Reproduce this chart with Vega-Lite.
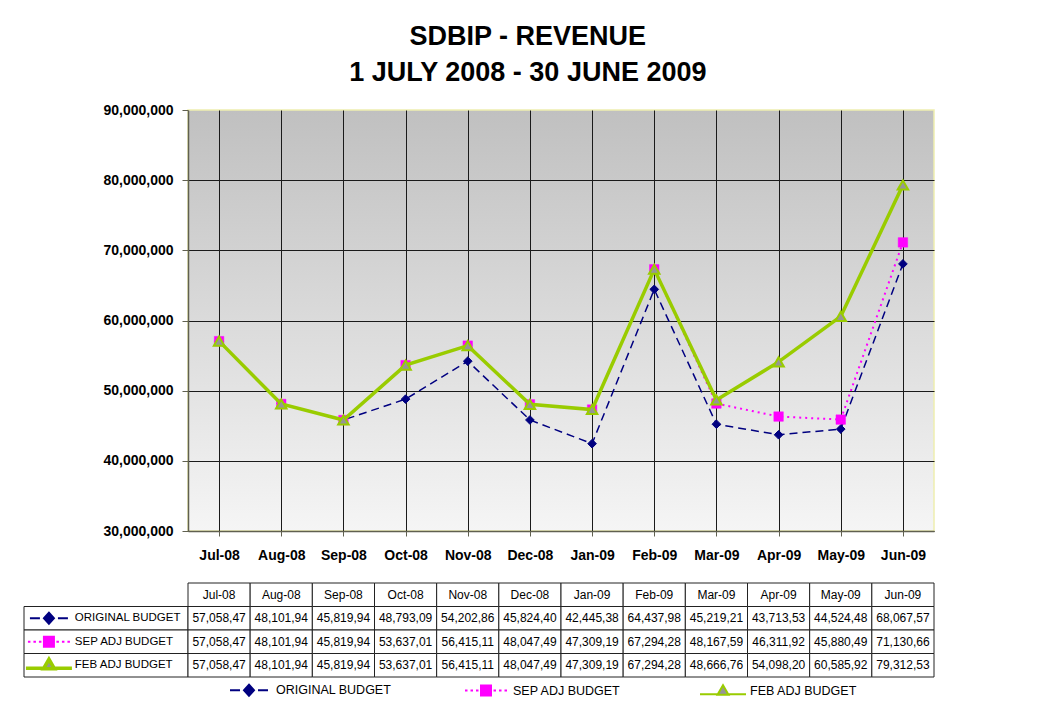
{
  "$schema": "https://vega.github.io/schema/vega-lite/v6.json",
  "padding": {"left": 18, "top": 23, "right": 5, "bottom": 5},
  "background": "white",
  "title": {
    "text": ["SDBIP - REVENUE", "1 JULY 2008 - 30 JUNE 2009"],
    "font": "Liberation Sans",
    "fontWeight": "bold",
    "fontSize": 27,
    "lineHeight": 36,
    "color": "#000000",
    "anchor": "middle",
    "dx": 51,
    "offset": 15
  },
  "datasets": {
    "budget": [
      {"month": "Jul-08", "series": "ORIGINAL BUDGET", "value": 57058470, "label": "57,058,47"},
      {"month": "Aug-08", "series": "ORIGINAL BUDGET", "value": 48101940, "label": "48,101,94"},
      {"month": "Sep-08", "series": "ORIGINAL BUDGET", "value": 45819940, "label": "45,819,94"},
      {"month": "Oct-08", "series": "ORIGINAL BUDGET", "value": 48793090, "label": "48,793,09"},
      {"month": "Nov-08", "series": "ORIGINAL BUDGET", "value": 54202860, "label": "54,202,86"},
      {"month": "Dec-08", "series": "ORIGINAL BUDGET", "value": 45824400, "label": "45,824,40"},
      {"month": "Jan-09", "series": "ORIGINAL BUDGET", "value": 42445380, "label": "42,445,38"},
      {"month": "Feb-09", "series": "ORIGINAL BUDGET", "value": 64437980, "label": "64,437,98"},
      {"month": "Mar-09", "series": "ORIGINAL BUDGET", "value": 45219210, "label": "45,219,21"},
      {"month": "Apr-09", "series": "ORIGINAL BUDGET", "value": 43713530, "label": "43,713,53"},
      {"month": "May-09", "series": "ORIGINAL BUDGET", "value": 44524480, "label": "44,524,48"},
      {"month": "Jun-09", "series": "ORIGINAL BUDGET", "value": 68067570, "label": "68,067,57"},
      {"month": "Jul-08", "series": "SEP ADJ BUDGET", "value": 57058470, "label": "57,058,47"},
      {"month": "Aug-08", "series": "SEP ADJ BUDGET", "value": 48101940, "label": "48,101,94"},
      {"month": "Sep-08", "series": "SEP ADJ BUDGET", "value": 45819940, "label": "45,819,94"},
      {"month": "Oct-08", "series": "SEP ADJ BUDGET", "value": 53637010, "label": "53,637,01"},
      {"month": "Nov-08", "series": "SEP ADJ BUDGET", "value": 56415110, "label": "56,415,11"},
      {"month": "Dec-08", "series": "SEP ADJ BUDGET", "value": 48047490, "label": "48,047,49"},
      {"month": "Jan-09", "series": "SEP ADJ BUDGET", "value": 47309190, "label": "47,309,19"},
      {"month": "Feb-09", "series": "SEP ADJ BUDGET", "value": 67294280, "label": "67,294,28"},
      {"month": "Mar-09", "series": "SEP ADJ BUDGET", "value": 48167590, "label": "48,167,59"},
      {"month": "Apr-09", "series": "SEP ADJ BUDGET", "value": 46311920, "label": "46,311,92"},
      {"month": "May-09", "series": "SEP ADJ BUDGET", "value": 45880490, "label": "45,880,49"},
      {"month": "Jun-09", "series": "SEP ADJ BUDGET", "value": 71130660, "label": "71,130,66"},
      {"month": "Jul-08", "series": "FEB ADJ BUDGET", "value": 57058470, "label": "57,058,47"},
      {"month": "Aug-08", "series": "FEB ADJ BUDGET", "value": 48101940, "label": "48,101,94"},
      {"month": "Sep-08", "series": "FEB ADJ BUDGET", "value": 45819940, "label": "45,819,94"},
      {"month": "Oct-08", "series": "FEB ADJ BUDGET", "value": 53637010, "label": "53,637,01"},
      {"month": "Nov-08", "series": "FEB ADJ BUDGET", "value": 56415110, "label": "56,415,11"},
      {"month": "Dec-08", "series": "FEB ADJ BUDGET", "value": 48047490, "label": "48,047,49"},
      {"month": "Jan-09", "series": "FEB ADJ BUDGET", "value": 47309190, "label": "47,309,19"},
      {"month": "Feb-09", "series": "FEB ADJ BUDGET", "value": 67294280, "label": "67,294,28"},
      {"month": "Mar-09", "series": "FEB ADJ BUDGET", "value": 48666760, "label": "48,666,76"},
      {"month": "Apr-09", "series": "FEB ADJ BUDGET", "value": 54098200, "label": "54,098,20"},
      {"month": "May-09", "series": "FEB ADJ BUDGET", "value": 60585920, "label": "60,585,92"},
      {"month": "Jun-09", "series": "FEB ADJ BUDGET", "value": 79312530, "label": "79,312,53"}
    ]
  },
  "columns": 2,
  "spacing": {"row": 52, "column": 0},
  "bounds": "flush",
  "align": "each",
  "concat": [
    {
      "width": 164,
      "height": 421,
      "data": {"values": [{"k": 1}]},
      "mark": {"type": "text", "text": ""},
      "encoding": {},
      "view": {"stroke": null}
    },
    {
      "width": 746,
      "height": 421,
      "data": {"name": "budget"},
      "view": {
        "fill": {"gradient": "linear", "x1": 0, "y1": 0, "x2": 0, "y2": 1,
          "stops": [{"offset": 0, "color": "#c0c0c0"}, {"offset": 1, "color": "#f5f5f5"}]},
        "stroke": "#eeeeb0",
        "strokeWidth": 1.5
      },
      "encoding": {
        "x": {
          "field": "month", "type": "ordinal",
          "scale": {"domain": ["Jul-08","Aug-08","Sep-08","Oct-08","Nov-08","Dec-08","Jan-09","Feb-09","Mar-09","Apr-09","May-09","Jun-09"], "paddingInner": 0, "paddingOuter": 0},
          "axis": {
            "title": null, "labelAngle": 0, "bandPosition": 0,
            "grid": true, "gridColor": "#1a1a1a", "gridWidth": 1,
            "ticks": true, "tickSize": 5, "tickColor": "#606050",
            "domainColor": "#606050", "domainWidth": 1.5,
            "labelFont": "Liberation Sans", "labelFontWeight": "bold", "labelFontSize": 14,
            "labelColor": "#000000", "labelPadding": 12
          }
        },
        "y": {
          "field": "value", "type": "quantitative",
          "scale": {"domain": [30000000, 90000000], "nice": false, "zero": false},
          "axis": {
            "title": null,
            "values": [30000000, 40000000, 50000000, 60000000, 70000000, 80000000, 90000000],
            "format": ",d",
            "grid": true, "gridColor": "#1a1a1a", "gridWidth": 1,
            "gridOpacity": {"condition": {"test": "datum.value >= 90000000", "value": 0}, "value": 1},
            "tickSize": 6, "tickColor": "#606050",
            "domainColor": "#606050", "domainWidth": 1.5,
            "labelFont": "Liberation Sans", "labelFontWeight": "bold", "labelFontSize": 14,
            "labelColor": "#000000", "labelPadding": 9
          }
        }
      },
      "layer": [
        {
          "transform": [{"filter": "datum.series === 'ORIGINAL BUDGET'"}],
          "mark": {"type": "line", "stroke": "#000080", "strokeWidth": 1.5, "strokeDash": [8, 5]}
        },
        {
          "transform": [{"filter": "datum.series === 'ORIGINAL BUDGET'"}],
          "mark": {"type": "point", "shape": "diamond", "filled": true, "fill": "#000080", "stroke": "#000080", "strokeWidth": 1, "size": 75, "opacity": 1}
        },
        {
          "transform": [{"filter": "datum.series === 'SEP ADJ BUDGET'"}],
          "mark": {"type": "line", "stroke": "#ff00ff", "strokeWidth": 2, "strokeDash": [2, 4]}
        },
        {
          "transform": [{"filter": "datum.series === 'SEP ADJ BUDGET'"}],
          "mark": {"type": "point", "shape": "square", "filled": true, "fill": "#ff00ff", "stroke": "#ff00ff", "strokeWidth": 0.5, "size": 90, "opacity": 1}
        },
        {
          "transform": [{"filter": "datum.series === 'FEB ADJ BUDGET'"}],
          "mark": {"type": "line", "stroke": "#99cc00", "strokeWidth": 3.5}
        },
        {
          "transform": [{"filter": "datum.series === 'FEB ADJ BUDGET'"}],
          "mark": {"type": "point", "shape": "triangle-up", "filled": true, "fill": "#969696", "stroke": "#99cc00", "strokeWidth": 2, "size": 110, "opacity": 1}
        },
        {
          "transform": [{"filter": "datum.month === 'Jul-08'"}],
          "mark": {"type": "point", "opacity": 0, "filled": true},
          "encoding": {
            "shape": {
              "field": "series", "type": "nominal",
              "scale": {
                "domain": ["ORIGINAL BUDGET", "SEP ADJ BUDGET", "FEB ADJ BUDGET"],
                "range": [
                  "M-1.9,0H-0.9M0,-0.55L0.5,0L0,0.55L-0.5,0ZM0.9,0H1.9",
                  "M-2.1,0H-1.85M-1.55,0H-1.3M-1.0,0H-0.75M-0.5,-0.5H0.5V0.5H-0.5ZM0.75,0H1.0M1.3,0H1.55M1.85,0H2.1",
                  "M-2.3,0.3H-0.55M0.55,0.3H2.3M0,-0.6L0.55,0.35L-0.55,0.35Z"
                ]
              },
              "legend": {
                "title": null, "orient": "none", "legendX": 50, "legendY": 569,
                "direction": "horizontal", "gridAlign": "all", "columnPadding": 67,
                "symbolSize": 400, "labelOffset": 16, "symbolOpacity": 1,
                "labelFont": "Liberation Sans", "labelFontSize": 12.5, "labelColor": "#000000",
                "padding": 0
              }
            },
            "fill": {
              "field": "series", "type": "nominal",
              "scale": {"domain": ["ORIGINAL BUDGET", "SEP ADJ BUDGET", "FEB ADJ BUDGET"], "range": ["#000080", "#ff00ff", "#969696"]}
            },
            "stroke": {
              "field": "series", "type": "nominal",
              "scale": {"domain": ["ORIGINAL BUDGET", "SEP ADJ BUDGET", "FEB ADJ BUDGET"], "range": ["#000080", "#ff00ff", "#99cc00"]}
            },
            "strokeWidth": {
              "field": "series", "type": "nominal",
              "scale": {"domain": ["ORIGINAL BUDGET", "SEP ADJ BUDGET", "FEB ADJ BUDGET"], "range": [2, 2, 3.5]}
            }
          }
        }
      ]
    },
    {
      "width": 164,
      "height": 94,
      "data": {"name": "budget"},
      "view": {"stroke": null},
      "transform": [{"filter": "datum.month === 'Jul-08'"}],
      "encoding": {
        "y": {
          "field": "series", "type": "nominal",
          "scale": {"domain": ["hdr", "ORIGINAL BUDGET", "SEP ADJ BUDGET", "FEB ADJ BUDGET"], "paddingInner": 0, "paddingOuter": 0},
          "axis": null
        }
      },
      "layer": [
        {
          "mark": {"type": "rect", "fill": "white", "stroke": "#222222", "strokeWidth": 1},
          "encoding": {
            "x": {"datum": 0, "type": "quantitative", "scale": {"domain": [0, 1]}, "axis": null},
            "x2": {"datum": 1}
          }
        },
        {
          "transform": [{"filter": "datum.series === 'ORIGINAL BUDGET'"}],
          "mark": {"type": "point", "filled": true, "shape": "M-1.9,0H-0.9M0,-0.55L0.5,0L0,0.55L-0.5,0ZM0.9,0H1.9", "size": 400, "fill": "#000080", "stroke": "#000080", "strokeWidth": 2, "opacity": 1},
          "encoding": {"x": {"datum": 0.152, "type": "quantitative"}}
        },
        {
          "transform": [{"filter": "datum.series === 'SEP ADJ BUDGET'"}],
          "mark": {"type": "point", "filled": true, "shape": "M-2.1,0H-1.85M-1.55,0H-1.3M-1.0,0H-0.75M-0.5,-0.5H0.5V0.5H-0.5ZM0.75,0H1.0M1.3,0H1.55M1.85,0H2.1", "size": 400, "fill": "#ff00ff", "stroke": "#ff00ff", "strokeWidth": 2, "opacity": 1},
          "encoding": {"x": {"datum": 0.152, "type": "quantitative"}}
        },
        {
          "transform": [{"filter": "datum.series === 'FEB ADJ BUDGET'"}],
          "mark": {"type": "point", "filled": true, "shape": "M-2.3,0.3H-0.55M0.55,0.3H2.3M0,-0.6L0.55,0.35L-0.55,0.35Z", "size": 400, "fill": "#969696", "stroke": "#99cc00", "strokeWidth": 3.5, "opacity": 1},
          "encoding": {"x": {"datum": 0.152, "type": "quantitative"}}
        },
        {
          "mark": {"type": "text", "align": "left", "baseline": "middle", "font": "Liberation Sans", "fontSize": 11.5, "color": "#000000"},
          "encoding": {
            "x": {"datum": 0.31, "type": "quantitative"},
            "text": {"field": "series"}
          }
        }
      ]
    },
    {
      "width": 746,
      "height": 94,
      "data": {"name": "budget"},
      "view": {"stroke": null},
      "encoding": {
        "x": {
          "field": "month", "type": "ordinal",
          "scale": {"domain": ["Jul-08","Aug-08","Sep-08","Oct-08","Nov-08","Dec-08","Jan-09","Feb-09","Mar-09","Apr-09","May-09","Jun-09"], "paddingInner": 0, "paddingOuter": 0},
          "axis": null
        },
        "y": {
          "field": "series", "type": "nominal",
          "scale": {"domain": ["hdr", "ORIGINAL BUDGET", "SEP ADJ BUDGET", "FEB ADJ BUDGET"], "paddingInner": 0, "paddingOuter": 0},
          "axis": null
        }
      },
      "layer": [
        {
          "mark": {"type": "rect", "fill": "white", "stroke": "#222222", "strokeWidth": 1}
        },
        {
          "transform": [{"filter": "datum.series === 'ORIGINAL BUDGET'"}],
          "mark": {"type": "rect", "fill": "white", "stroke": "#222222", "strokeWidth": 1},
          "encoding": {"y": {"datum": "hdr", "type": "nominal"}}
        },
        {
          "mark": {"type": "text", "align": "center", "baseline": "middle", "font": "Liberation Sans", "fontSize": 12, "color": "#000000"},
          "encoding": {"text": {"field": "label"}}
        },
        {
          "transform": [{"filter": "datum.series === 'ORIGINAL BUDGET'"}],
          "mark": {"type": "text", "align": "center", "baseline": "middle", "font": "Liberation Sans", "fontSize": 12, "color": "#000000"},
          "encoding": {"y": {"datum": "hdr", "type": "nominal"}, "text": {"field": "month"}}
        }
      ]
    }
  ],
  "resolve": {"scale": {"shape": "independent", "fill": "independent", "stroke": "independent", "strokeWidth": "independent"}, "legend": {"shape": "independent", "fill": "independent", "stroke": "independent", "strokeWidth": "independent"}},
  "config": {
    "font": "Liberation Sans",
    "view": {"stroke": null}
  }
}
